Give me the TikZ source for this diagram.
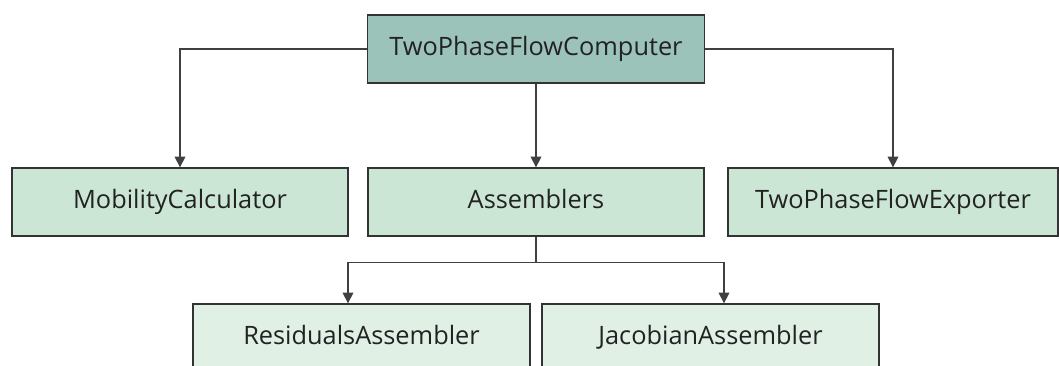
\documentclass[tikz,border=0pt]{standalone}
\usepackage{fontspec}
\setmainfont{Open Sans}
\usetikzlibrary{arrows.meta,positioning}
\definecolor{topfill}{HTML}{9CC3BA}
\definecolor{midfill}{HTML}{CCE6D5}
\definecolor{lowfill}{HTML}{E0F0E5}
\definecolor{edgecol}{HTML}{333333}
\definecolor{linecol}{HTML}{404040}
\definecolor{txtcol}{HTML}{222222}
\tikzset{
  box/.style={draw=edgecol, line width=1pt, rectangle, inner sep=0pt,
    minimum height=51pt, text=txtcol, font=\fontsize{19}{22}\selectfont,
    text height=13.5pt, text depth=4pt},
  conn/.style={draw=linecol, line width=1pt, -{Triangle[width=8pt,length=8pt]}},
}
\begin{document}
\begin{tikzpicture}[x=0.75pt,y=-0.75pt]
\useasboundingbox (0,0) rectangle (1059,365);
\clip (0,0) rectangle (1059,365);
\fill[white] (0,0) rectangle (1059,365);
\node[box, fill=topfill, minimum width=252.75pt] (top) at (536,49) {TwoPhaseFlowComputer};
\node[box, fill=midfill, minimum width=252pt] (mob) at (180,202) {MobilityCalculator};
\node[box, fill=midfill, minimum width=252pt] (asm) at (536,202) {Assemblers};
\node[box, fill=midfill, minimum width=247.5pt] (exp) at (893,202) {TwoPhaseFlowExporter};
\node[box, fill=lowfill, minimum width=252.75pt] (res) at (361.5,338) {ResidualsAssembler};
\node[box, fill=lowfill, minimum width=252.75pt] (jac) at (710.5,338) {JacobianAssembler};
\draw[conn] (top.west) -| (mob.north);
\draw[conn] (top.east) -| (exp.north);
\draw[conn] (top.south) -- (asm.north);
\draw[conn] (asm.south) -- ++(0,26) coordinate (split) -| ([xshift=-10.125pt]res.north);
\draw[conn] (split) -| ([xshift=10.125pt]jac.north);
\end{tikzpicture}
\end{document}
